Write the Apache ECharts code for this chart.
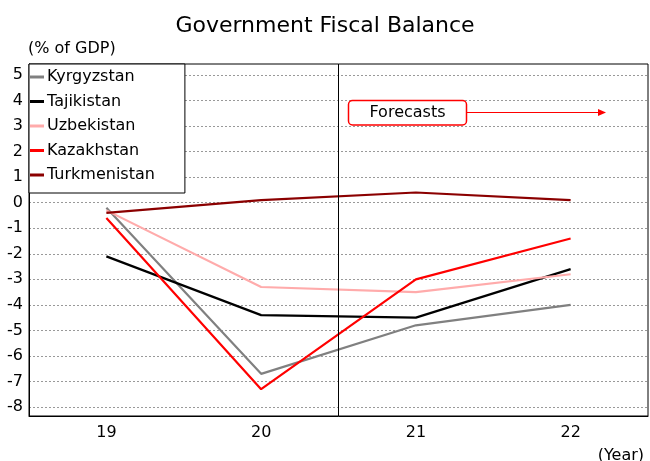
<!DOCTYPE html>
<html>
<head>
<meta charset="UTF-8">
<title>Government Fiscal Balance</title>
<script type="text/javascript" src="https://cdn.jsdelivr.net/npm/echarts@6/dist/echarts.min.js"></script>
<style>
  body { margin: 0; background: #fff; }
</style>
</head>
<body>
	<div id="box" style="width:650px;height:461px;"></div>
	<script type="text/javascript">
		// data (% of GDP)
		var years = ['19', '20', '21', '22'];
		var yTicks = [-8, -7, -6, -5, -4, -3, -2, -1, 0, 1, 2, 3, 4, 5];
		var kyrgyzstan = [-0.2, -6.7, -4.8, -4.0];
		var tajikistan = [-2.1, -4.4, -4.5, -2.6];
		var uzbekistan = [-0.3, -3.3, -3.5, -2.8];
		var kazakhstan = [-0.6, -7.3, -3.0, -1.4];
		var turkmenistan = [-0.4, 0.1, 0.4, 0.1];
		// forecasts start between '20' and '21' (position on a 0..4 scale)
		var forecastStart = 2;

		var font = 'DejaVu Sans';

		function line(name, data, color) {
			return {
				name: name,
				type: 'line',
				data: data,
				symbol: 'none',
				lineStyle: { color: color, width: 2.2 },
				itemStyle: { color: color },
				z: 3
			};
		}

		var mychart = echarts.init(document.getElementById('box'));
		var option = {
			animation: false,
			title: [{
				text: 'Government Fiscal Balance',
				left: 'center',
				top: 10,
				textStyle: { fontFamily: font, fontSize: 22, fontWeight: 'normal', color: '#000' }
			}, {
				text: '(Year)',
				right: 1,
				top: 443,
				textStyle: { fontFamily: font, fontSize: 16, fontWeight: 'normal', color: '#000' }
			}],
			grid: {
				left: 29, right: 2, top: 64, bottom: 45,
				show: true, borderColor: '#000', borderWidth: 1
			},
			legend: {
				orient: 'vertical',
				left: 29, top: 64,
				padding: [5, 30, 10, 1],
				itemGap: 8.5,
				itemWidth: 14, itemHeight: 3,
				icon: 'rect',
				backgroundColor: '#fff',
				borderColor: '#000', borderWidth: 1,
				textStyle: { fontFamily: font, fontSize: 16, color: '#000', lineHeight: 16, padding: [0, 0, 0, -2] },
				data: ['Kyrgyzstan', 'Tajikistan', 'Uzbekistan', 'Kazakhstan', 'Turkmenistan']
			},
			xAxis: [{
				type: 'category',
				data: years,
				boundaryGap: true,
				axisLine: { onZero: false, lineStyle: { color: '#000', width: 1 } },
				axisTick: {
					inside: true, length: 4,
					lineStyle: { color: '#000' }
				},
				axisLabel: { fontFamily: font, fontSize: 16, color: '#000', margin: 9 },
				splitLine: { show: false }
			}, {
				type: 'value',
				min: 0, max: 4,
				show: false
			}],
			yAxis: {
				type: 'value',
				min: -8.35, max: 5.43,
				name: '(% of GDP)',
				nameLocation: 'end',
				nameGap: 7,
				nameTextStyle: { fontFamily: font, fontSize: 16, color: '#000', align: 'left', padding: [0, 0, 0, -1] },
				axisLine: { show: true, lineStyle: { color: '#000', width: 1 } },
				axisTick: { show: false, customValues: yTicks },
				axisLabel: { fontFamily: font, fontSize: 16, color: '#000', margin: 6, customValues: yTicks },
				splitLine: { show: true, lineStyle: { color: '#999', width: 1, type: [2, 2] } }
			},
			series: [
				line('Kyrgyzstan', kyrgyzstan, '#808080'),
				line('Tajikistan', tajikistan, '#000000'),
				line('Uzbekistan', uzbekistan, '#ffabab'),
				line('Kazakhstan', kazakhstan, '#ff0000'),
				line('Turkmenistan', turkmenistan, '#8b0000'),
				{
					type: 'line',
					xAxisIndex: 1,
					data: [],
					markLine: {
						silent: true,
						symbol: 'none',
						label: { show: false },
						lineStyle: { color: '#000', width: 1, type: 'solid' },
						data: [{ xAxis: forecastStart }]
					}
				}
			],
			graphic: [{
				type: 'rect',
				shape: { x: 348.5, y: 100.5, width: 118, height: 24.5, r: 4 },
				style: { fill: '#fff', stroke: '#ff0000', lineWidth: 1.5 },
				z: 100
			}, {
				type: 'text',
				x: 407.5, y: 113,
				style: { text: 'Forecasts', font: '16px "DejaVu Sans"', fill: '#000', align: 'center', verticalAlign: 'middle' },
				z: 101
			}, {
				type: 'line',
				shape: { x1: 467, y1: 112.5, x2: 599, y2: 112.5 },
				style: { stroke: '#ff0000', lineWidth: 1.2 },
				z: 100
			}, {
				type: 'polygon',
				shape: { points: [[606, 112.5], [598, 109], [598, 116]] },
				style: { fill: '#ff0000' },
				z: 100
			}]
		};
		mychart.setOption(option);
	</script>
</body>
</html>
